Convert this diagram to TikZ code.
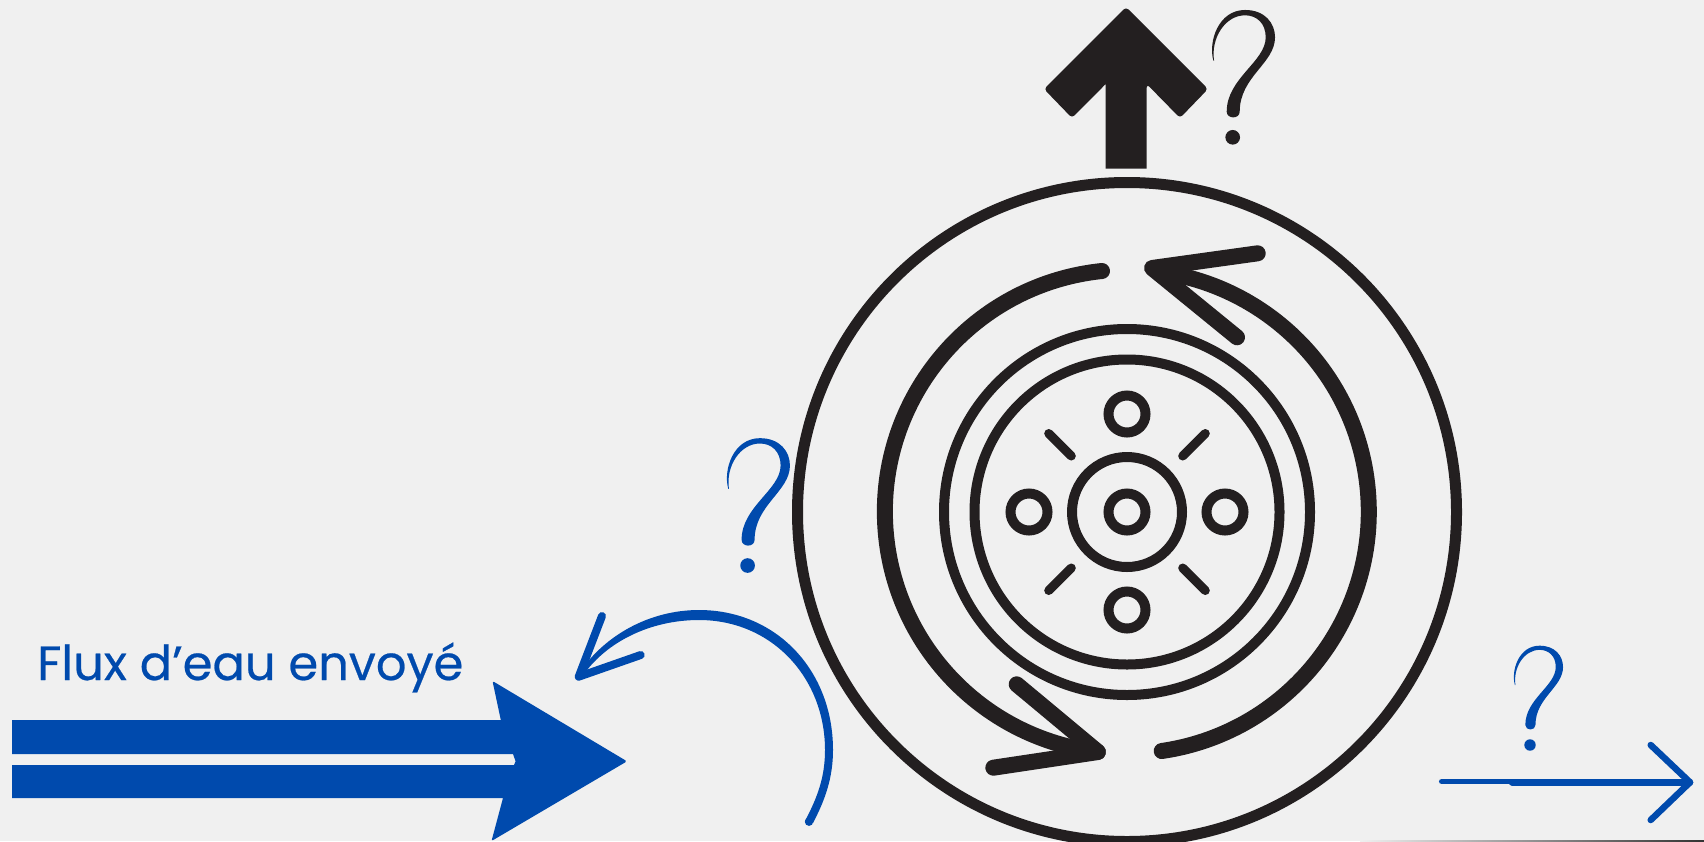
\documentclass[tikz,border=0pt]{standalone}
\usepackage{fontspec}
\usetikzlibrary{calc}
\setmainfont{Poppins}
\newfontfamily\lblfont[FakeBold=0.5]{Poppins}
\definecolor{bgc}{HTML}{F0F0F0}
\definecolor{ink}{HTML}{231F20}
\definecolor{blu}{HTML}{004AAD}
\newcommand{\qmark}[4]{%
  \begin{scope}[shift={(#1,#2)},scale=#3/3,shift={(-698,-412)}]
    \fill[#4] (640,182) .. controls (624,125) and (655,30) .. (735,30)
      .. controls (795,30) and (825,70) .. (825,112)
      .. controls (825,190) and (719,230) .. (719,335)
      .. controls (719,358) and (680,358) .. (680,335)
      .. controls (680,235) and (797,185) .. (797,112)
      .. controls (797,70) and (770,46) .. (735,46)
      .. controls (675,46) and (632,115) .. (642,182) -- cycle;
    \fill[#4] (698,412) circle (22);
  \end{scope}}
\tikzset{
  ring/.style={draw=ink,line width=10pt},
  tick/.style={draw=ink,line width=9pt,line cap=round},
  bigarc/.style={draw=ink,line width=16pt,line cap=round},
  bigarm/.style={draw=ink,line width=16pt,line cap=round,line join=round},
  bluearm/.style={draw=blu,line width=8pt,line cap=round,line join=round},
}
\begin{document}
\begin{tikzpicture}[x=1pt,y=-1pt]
\useasboundingbox (0,0) rectangle (1704,841);
\clip (0,0) rectangle (1704,841);
\fill[bgc] (0,0) rectangle (1704,841);
\shade[left color=bgc,right color=black!80] (1360,840) rectangle (1704,841);
\coordinate (c) at (1127,512);
% outer and inner rings
\draw[ring,line width=11pt] (c) circle (329.5);
\draw[ring] (c) circle (183);
\draw[ring] (c) circle (152.5);
\draw[ring] (c) circle (55);
\foreach \dx/\dy in {0/0,0/-98,0/98,-98/0,98/0}
  \draw[ring] ($(c)+(\dx,\dy)$) circle (18.5);
\foreach \sx/\sy in {-1/-1,1/-1,-1/1,1/1}
  \draw[tick] ($(c)+(\sx*78.3,\sy*78.5)$) -- ($(c)+(\sx*55.7,\sy*56)$);
% big arcs
\draw[bigarc] (1102,271) arc[start angle=264.1,end angle=96.9,radius=242];
\draw[bigarc] (1161.7,751) arc[start angle=81.7,end angle=-81.5,radius=242];
\draw[bigarm] (1016.7,684.3) -- (1098,752) -- (993.3,767.7);
\draw[bigarm] (1237,337.3) -- (1152,268) -- (1257.7,253.3);
% up arrow
\fill[ink,rounded corners=3.5pt] (1126,7) -- (1208,89) -- (1180,118) -- (1146.7,84)
  [sharp corners] -- (1146.7,168.7) -- (1105.7,168.7) -- (1105.7,84)
  [rounded corners=3.5pt] -- (1072,118) -- (1044,89) -- cycle;
\qmark{1232.7}{137.3}{1}{ink}
% blue band arrow
\fill[blu] (12,720) -- (500.8,720)
  [rounded corners=1.5pt] -- (492.5,681) -- (627,761.3) -- (491.5,841)
  [sharp corners] -- (503,798) -- (12,798) -- (12,765) -- (514,765) -- (515.6,761.3) -- (513,754) -- (12,754) -- cycle;
\node[anchor=base west,text=blu,font=\lblfont\fontsize{48}{48}\selectfont,inner sep=0pt] (lbl) at (37,680) {Flux d’eau envoyé};
% blue curved arrow
\fill[blu] (805,821) .. controls (817,798) and (825,778) .. (825,750)
  .. controls (825,678) and (772,620) .. (699,620)
  .. controls (650,620) and (607,642) .. (584,674)
  -- (580,672)
  .. controls (605,635) and (650,610) .. (699,610)
  .. controls (776,610) and (833,670) .. (833,750)
  .. controls (833,778) and (825,800) .. (813,823) -- cycle;
\draw[bluearm] (602,616) -- (578.7,676.7) -- (640.7,655);
\fill[blu] (809,821.7) circle (4.2);
\qmark{747.6}{565.5}{1}{blu}
% right arrow
\coordinate (rs) at (1441.7,781.5);
\coordinate (rt) at (1690,782.3);
\draw[blu,line width=5.5pt,line cap=round] (rs) -- (1530,781.5);
\draw[blu,line width=6.5pt,line cap=round] (1512,782.3) -- (rt);
\draw[blu,line width=6.5pt,line cap=round,line join=round] (1650.7,745) -- (rt) -- (1650.7,820);
\qmark{1530}{745}{0.78}{blu}
\end{tikzpicture}
\end{document}
